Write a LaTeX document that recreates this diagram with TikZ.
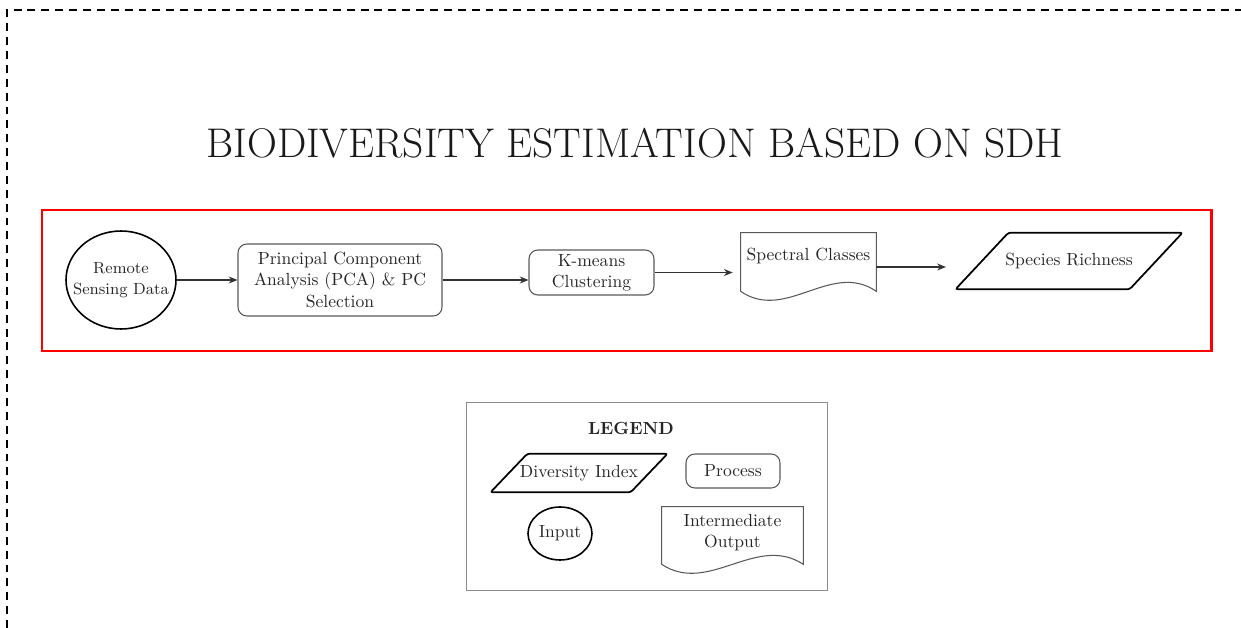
\documentclass[tikz,border=0pt]{standalone}
\usepackage{tikz}
\usetikzlibrary{shapes.geometric,arrows.meta,calc}

\tikzset{
  flowtext/.style={font=\fontsize{10}{12}\selectfont, text=black!85, align=center},
  inputnode/.style={flowtext, ellipse, draw=black, line width=0.9pt, inner sep=0pt},
  processnode/.style={flowtext, rectangle, rounded corners=5pt, draw=black!65, line width=0.6pt, inner sep=0pt},
  docnode/.style={flowtext, rectangle, inner sep=0pt},
  indexnode/.style={flowtext, rectangle, inner sep=0pt},
  docline/.style={draw=black!65, line width=0.6pt},
  indexline/.style={draw=black, line width=1pt, rounded corners=1.5pt},
  flowarrow/.style={-{Stealth[length=5pt,width=4pt]}, black!80, line width=0.6pt},
}
% document outline with a wavy bottom
\newcommand{\docoutline}[1]{%
  \draw[docline] (#1.south west) -- (#1.north west) -- (#1.north east) -- (#1.south east)
    .. controls ($(#1.south east)!0.333!(#1.south west)+(0cm,0.62cm)$) and ($(#1.south east)!0.667!(#1.south west)+(0cm,-0.62cm)$) .. (#1.south west);}
% slanted outline for index nodes
\newcommand{\paraoutline}[2]{%
  \draw[indexline] ($(#1.south west)+(-#2,0cm)$) -- ($(#1.north west)+(#2,0cm)$) -- ($(#1.north east)+(#2,0cm)$) -- ($(#1.south east)+(-#2,0cm)$) -- cycle;}

\begin{document}
\begin{tikzpicture}[x=0.02cm,y=-0.02cm]
  \useasboundingbox (0,0) rectangle (1241,628);
  % outer frame
  \draw[line width=1.1pt, dash pattern=on 4.5pt off 3.4pt] (7,628) -- (7,10) -- (1241,10);
  \node[font=\fontsize{23.6}{28}\selectfont, text=black!90] (title) at (635,143) {BIODIVERSITY ESTIMATION BASED ON SDH};

  % workflow
  \draw[red, line width=1.7pt] (42,210) rectangle (1211,351);
  \node[inputnode, font=\fontsize{9.2}{12}\selectfont, inner xsep=-0.3cm, minimum width=2.2cm, minimum height=1.96cm] (rsd) at (121,280) {Remote\\Sensing Data};
  \node[processnode, minimum width=4.08cm, minimum height=1.44cm] (pca) at (340,280) {Principal Component\\Analysis (PCA) \& PC\\Selection};
  \node[processnode, minimum width=2.5cm, minimum height=0.9cm] (kmeans) at (591.5,272.5) {K-means\\Clustering};
  \node[docnode, minimum width=2.7cm, minimum height=1.16cm, text depth=0.3cm] (spec) at (808.5,262) {Spectral Classes};
  \docoutline{spec}
  \node[indexnode, minimum width=3.47cm, minimum height=1.12cm] (rich) at (1069,261) {Species Richness};
  \paraoutline{rich}{0.53cm}

  \draw[flowarrow] (rsd) -- (pca);
  \draw[flowarrow] (pca.east) -- (kmeans.west |- pca.east);
  \draw[flowarrow, shorten >=0.16cm] (kmeans.east) -- (spec.west |- kmeans.east);
  \draw[flowarrow, shorten >=0.72cm] ([yshift=-0.1cm]spec.east) -- ([yshift=-0.1cm]spec.east -| rich.west);

  % legend
  \draw[black!45, line width=0.5pt] (466,402) rectangle (827,590);
  \node[flowtext, font=\fontsize{10}{12}\selectfont\bfseries] (legend) at (631,428) {LEGEND};
  \node[indexnode, minimum width=2.79cm, minimum height=0.76cm] (keyindex) at (579,473) {Diversity Index};
  \paraoutline{keyindex}{0.37cm}
  \node[processnode, minimum width=1.88cm, minimum height=0.68cm] (keyprocess) at (733,471) {Process};
  \node[inputnode, minimum width=1.28cm, minimum height=1.06cm] (keyinput) at (560,533.5) {Input};
  \node[docnode, minimum width=2.82cm, minimum height=1.14cm, text depth=0.2cm] (keyoutput) at (732.5,535.5) {Intermediate\\Output};
  \docoutline{keyoutput}
\end{tikzpicture}
\end{document}
